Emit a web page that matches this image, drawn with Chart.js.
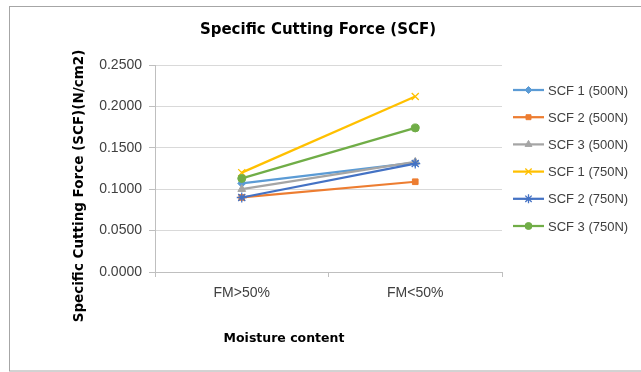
<!DOCTYPE html>
<html><head><meta charset="utf-8">
<script src="https://cdn.jsdelivr.net/npm/chart.js@4.4.0/dist/chart.umd.min.js"></script>
<style>html,body{margin:0;padding:0;background:#fff}#wrap{width:641px;height:372px;position:relative}</style>
</head><body><div id="wrap"><canvas id="c" width="641" height="372"></canvas></div>
<script>
const categories = ["FM>50%", "FM<50%"];
const seriesNames = ["SCF 1 (500N)", "SCF 2 (500N)", "SCF 3 (500N)", "SCF 1 (750N)", "SCF 2 (750N)", "SCF 3 (750N)"];
const scf1_500 = [0.107, 0.132];
const scf2_500 = [0.090, 0.109];
const scf3_500 = [0.100, 0.133];
const scf1_750 = [0.120, 0.212];
const scf2_750 = [0.090, 0.131];
const scf3_750 = [0.113, 0.174];
const yTicks = [0, 0.05, 0.1, 0.15, 0.2, 0.25];
const chartTitle = "Specific Cutting Force (SCF)";
const xTitle = "Moisture content";
const yTitle = "Specific Cutting Force (SCF)(N/cm2)";

const colors = ["#5B9BD5", "#ED7D31", "#A5A5A5", "#FFC000", "#4472C4", "#70AD47"];
const markers = ["rectRot", "rect", "triangle", "crossRot", "star", "circle"];
const radii = [4, 4, 4.5, 5, 5, 4];
const values = [scf1_500, scf2_500, scf3_500, scf1_750, scf2_750, scf3_750];

const datasets = values.map((v, i) => ({
  label: seriesNames[i], data: v, borderColor: colors[i], backgroundColor: colors[i],
  borderWidth: 2.25, pointStyle: markers[i], pointRadius: radii[i], pointBorderWidth: (markers[i]==='crossRot'||markers[i]==='star')?1.3:1,
  pointBackgroundColor: colors[i], pointBorderColor: colors[i], tension: 0, order: 6 - i
}));

const deco = {
  id: 'deco',
  afterDraw(chart) {
    const ctx = chart.ctx;
    ctx.save();
    ctx.strokeStyle = '#a6a6a6'; ctx.lineWidth = 1;
    ctx.strokeRect(9.5, 6.5, 700, 364.5);
    ctx.fillStyle = '#000';
    ctx.textAlign = 'center'; ctx.textBaseline = 'middle';
    ctx.font = 'bold 15px "DejaVu Sans", sans-serif';
    ctx.fillText(chartTitle, 318, 30);
    ctx.font = 'bold 12.5px "DejaVu Sans", sans-serif';
    ctx.fillText(xTitle, 284, 339);
    ctx.save();
    ctx.translate(79, 186); ctx.rotate(-Math.PI/2);
    ctx.font = 'bold 13.5px "DejaVu Sans", sans-serif';
    ctx.fillText(yTitle, 0, 0);
    ctx.restore();
    ctx.textAlign = 'left';
    ctx.font = '13px "Liberation Sans", Arial, sans-serif';
    chart.data.datasets.forEach((ds, i) => {
      const y = 90 + i * 27.2;
      ctx.strokeStyle = ds.borderColor; ctx.lineWidth = 2.25;
      ctx.beginPath(); ctx.moveTo(513, y); ctx.lineTo(544, y); ctx.stroke();
      ctx.fillStyle = ds.borderColor;
      ctx.strokeStyle = ds.borderColor;
      ctx.lineWidth = ds.pointBorderWidth;
      ctx.beginPath();
      Chart.helpers.drawPoint(ctx, {pointStyle: ds.pointStyle, radius: ds.pointRadius - 0.5, borderWidth: ds.pointBorderWidth, rotation: 0}, 528.5, y);
      ctx.fillStyle = '#404040';
      ctx.fillText(ds.label, 548, y + 1);
    });
    ctx.restore();
  }
};

new Chart(document.getElementById('c'), {
  type: 'line',
  data: { labels: categories, datasets },
  options: {
    responsive: false, animation: false, devicePixelRatio: 1,
    layout: { padding: { left: 0, right: 139, top: 65, bottom: 0 } },
    plugins: { legend: { display: false }, tooltip: { enabled: false }, title: { display: false } },
    scales: {
      x: {
        offset: true,
        grid: { offset: true, drawOnChartArea: false, drawTicks: true, tickLength: 5, color: '#bfbfbf' },
        border: { color: '#bfbfbf', width: 1 },
        ticks: { color: '#404040', font: { size: 14, family: '"Liberation Sans", Arial, sans-serif' }, padding: 8 },
        afterFit(s) { s.height = 100; }
      },
      y: {
        min: 0, max: 0.25,
        afterBuildTicks(s) { s.ticks = yTicks.map(v => ({ value: v })); },
        grid: { color: '#d9d9d9', tickLength: 6, drawTicks: true, tickColor: '#bfbfbf' },
        border: { color: '#bfbfbf', width: 1 },
        ticks: { color: '#404040', padding: 7, font: { size: 14, family: '"Liberation Sans", Arial, sans-serif' }, callback: v => Number(v).toFixed(4) },
        afterFit(s) { s.width = 155; }
      }
    }
  },
  plugins: [deco]
});
</script></body></html>
